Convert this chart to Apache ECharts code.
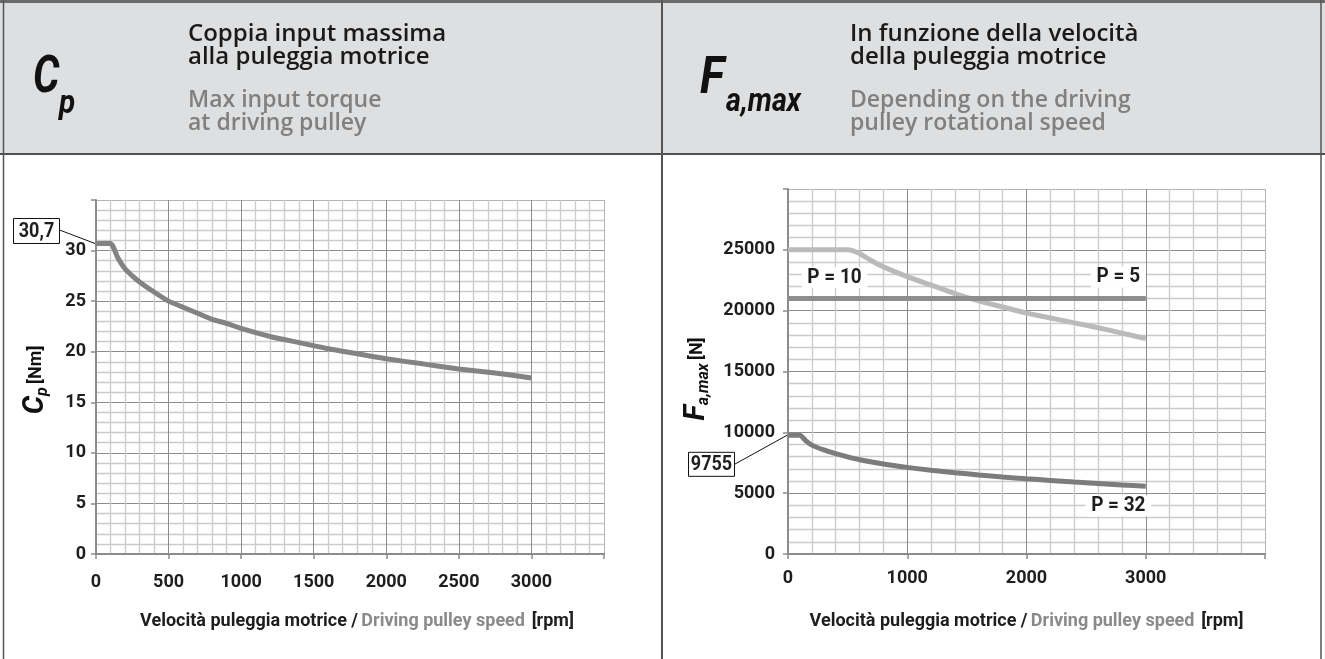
<!DOCTYPE html>
<html>
<head>
<meta charset="utf-8">
<script src="https://cdn.jsdelivr.net/npm/echarts@6/dist/echarts.min.js"></script>
<style>
  html, body { margin: 0; padding: 0; background: #ffffff; }
  #chart { width: 1325px; height: 659px; }
</style>
</head>
<body>
<div id="chart"></div>
<script>
// ---- Max input torque Cp [Nm] vs driving pulley speed [rpm] ----
const rpmCp    = [0, 100, 150, 200, 250, 300, 400, 500, 600, 700, 800, 900, 1000, 1200, 1400, 1600, 1800, 2000, 2250, 2500, 2750, 3000];
const torqueCp = [30.7, 30.7, 29.3, 28.2, 27.5, 26.9, 25.9, 25.0, 24.4, 23.8, 23.2, 22.8, 22.3, 21.5, 20.9, 20.3, 19.8, 19.3, 18.8, 18.3, 17.9, 17.4];
const cpPeak = 30.7;

// ---- Max axial force Fa,max [N] vs driving pulley speed [rpm] ----
const rpmP5    = [0, 3000];
const forceP5  = [21000, 21000];
const rpmP10   = [0, 500, 600, 700, 800, 1000, 1200, 1400, 1600, 1800, 2000, 2200, 2400, 2600, 2800, 3000];
const forceP10 = [25000, 25000, 24700, 24100, 23600, 22800, 22100, 21400, 20800, 20300, 19800, 19400, 19000, 18600, 18150, 17700];
const rpmP32   = [0, 100, 150, 200, 300, 400, 500, 600, 800, 1000, 1200, 1400, 1600, 1800, 2000, 2200, 2400, 2600, 2800, 3000];
const forceP32 = [9755, 9755, 9300, 8950, 8550, 8250, 7980, 7750, 7400, 7120, 6880, 6680, 6500, 6330, 6180, 6050, 5920, 5800, 5680, 5560];
const faPeak = 9755;

// Tick labels that are printed on each axis
const xTicksCp = [0, 500, 1000, 1500, 2000, 2500, 3000];
const yTicksCp = [0, 5, 10, 15, 20, 25, 30];
const xTicksFa = [0, 1000, 2000, 3000];
const yTicksFa = [0, 5000, 10000, 15000, 20000, 25000];

// Curve labels: text and anchor in data coordinates (rpm, N)
const curveLabels = [
  { text: 'P = 10', rpm: 390,  force: 22700 },
  { text: 'P = 5',  rpm: 2770, force: 22750 },
  { text: 'P = 32', rpm: 2770, force: 3950 }
];

const COND = "'Liberation Sans Narrow',Roboto,sans-serif";
const SANS = "'Open Sans','Noto Sans',sans-serif";
const MAJOR = '#8c8c8c';
const MINOR = '#cbcbcb';
const EDGE  = '#b4b4b4';

function pairs(xs, ys) { return xs.map((x, i) => [x, ys[i]]); }

function valueAxis(gridIndex, max, interval, ticks, labelMargin, opts) {
  const n = Math.round(max / interval) + 1;
  const colors = [];
  for (let i = 0; i < n; i++) colors.push(i === n - 1 ? EDGE : MAJOR);
  return Object.assign({
    type: 'value',
    gridIndex: gridIndex,
    min: 0,
    max: max,
    interval: interval,
    axisLine: { show: true, onZero: false, lineStyle: { color: MAJOR, width: 2 } },
    axisTick: { show: true, length: 5, lineStyle: { color: MAJOR, width: 1.5 } },
    axisLabel: {
      show: true,
      margin: labelMargin,
      color: '#1e1e1e',
      fontFamily: COND,
      fontWeight: 'bold',
      fontSize: 18,
      formatter: v => (ticks.indexOf(v) >= 0 ? String(v) : '')
    },
    splitLine: { show: true, lineStyle: { color: colors, width: 1 } },
    minorTick: { show: false, splitNumber: 5 },
    minorSplitLine: { show: true, lineStyle: { color: MINOR, width: 1.3 } }
  }, opts || {});
}

const xNameRich = {
  a: { fontFamily: COND, fontWeight: 'bold', fontSize: 18, color: '#1e1e1e' },
  b: { fontFamily: COND, fontWeight: 'bold', fontSize: 18, color: '#8a8a8a' }
};
const xName = '{a|Velocità puleggia motrice /} {b|Driving pulley speed}  {a|[rpm]}';

const chart = echarts.init(document.getElementById('chart'), null, { renderer: 'canvas' });

const option = {
  animation: false,
  backgroundColor: '#ffffff',
  grid: [
    { left: 96, top: 200, width: 508, height: 354 },
    { left: 788, top: 189, width: 477, height: 365 }
  ],
  xAxis: [
    valueAxis(0, 3500, 500, xTicksCp, 19, {
      name: xName, nameLocation: 'middle', nameGap: 58,
      nameTextStyle: { rich: xNameRich, padding: [0, 0, 0, 14] }
    }),
    valueAxis(1, 4000, 1000, xTicksFa, 15, {
      name: xName, nameLocation: 'middle', nameGap: 58,
      nameTextStyle: { rich: xNameRich }
    })
  ],
  yAxis: [
    valueAxis(0, 35, 5, yTicksCp, 10),
    valueAxis(1, 30000, 5000, yTicksFa, 13)
  ],
  series: [
    {
      name: 'Cp', type: 'line', xAxisIndex: 0, yAxisIndex: 0,
      data: pairs(rpmCp, torqueCp), showSymbol: false, smooth: 0.2,
      lineStyle: { color: '#838383', width: 5 }, silent: true, z: 3
    },
    {
      name: 'P = 10', type: 'line', xAxisIndex: 1, yAxisIndex: 1,
      data: pairs(rpmP10, forceP10), showSymbol: false, smooth: 0.2,
      lineStyle: { color: '#bababa', width: 5 }, silent: true, z: 3
    },
    {
      name: 'P = 5', type: 'line', xAxisIndex: 1, yAxisIndex: 1,
      data: pairs(rpmP5, forceP5), showSymbol: false,
      lineStyle: { color: '#8e8e8e', width: 5 }, silent: true, z: 4
    },
    {
      name: 'P = 32', type: 'line', xAxisIndex: 1, yAxisIndex: 1,
      data: pairs(rpmP32, forceP32), showSymbol: false, smooth: 0.2,
      lineStyle: { color: '#7c7c7c', width: 5 }, silent: true, z: 3
    }
  ]
};

chart.setOption(option);

// ---- frame, header and annotations ----
const fmt = v => String(v).replace('.', ',');
const pCp = chart.convertToPixel({ gridIndex: 0 }, [0, cpPeak]);
const pFa = chart.convertToPixel({ gridIndex: 1 }, [0, faPeak]);

const g = [];
// header band
g.push({ type: 'rect', shape: { x: 0, y: 0, width: 1325, height: 154 }, style: { fill: '#dedfe0' }, z: 0 });
g.push({ type: 'rect', shape: { x: 0, y: 0, width: 1325, height: 3 }, style: { fill: '#6b6b6b' }, z: 1 });
g.push({ type: 'line', shape: { x1: 0, y1: 154, x2: 1325, y2: 154 }, style: { stroke: '#505050', lineWidth: 2 }, z: 1 });
// panel borders
g.push({ type: 'line', shape: { x1: 3.5, y1: 0, x2: 3.5, y2: 659 }, style: { stroke: '#555555', lineWidth: 1.5 }, z: 1 });
g.push({ type: 'line', shape: { x1: 662, y1: 0, x2: 662, y2: 659 }, style: { stroke: '#555555', lineWidth: 2 }, z: 1 });
g.push({ type: 'line', shape: { x1: 1321, y1: 0, x2: 1321, y2: 659 }, style: { stroke: '#555555', lineWidth: 1.5 }, z: 1 });

function txt(text, x, y, size, color, weight, family, extra, sx) {
  return {
    type: 'text', x: x, y: y, z: 5, scaleX: sx || 1,
    style: Object.assign({
      text: text, fill: color, fontSize: size, fontWeight: weight, fontFamily: family,
      align: 'left', verticalAlign: 'middle'
    }, extra || {})
  };
}

// header symbols
const ital = { fontStyle: 'italic' };
g.push(txt('C', 33, 79, 52, '#111111', 'bold', COND, ital, 0.8));
g.push(txt('p', 59, 105, 33, '#111111', 'bold', COND, ital, 0.9));
g.push(txt('F', 700, 80, 52, '#111111', 'bold', COND, ital, 0.88));
g.push(txt('a,max', 726, 103, 33, '#111111', 'bold', COND, ital, 0.87));

// header titles
g.push(txt('Coppia input massima', 188, 34, 24, '#1a1a1a', 600, SANS));
g.push(txt('alla puleggia motrice', 188, 57, 24, '#1a1a1a', 600, SANS));
g.push(txt('Max input torque', 188, 100, 23, '#808080', 600, SANS));
g.push(txt('at driving pulley', 188, 123, 23, '#808080', 600, SANS));
g.push(txt('In funzione della velocità', 850, 34, 24, '#1a1a1a', 600, SANS));
g.push(txt('della puleggia motrice', 850, 57, 24, '#1a1a1a', 600, SANS));
g.push(txt('Depending on the driving', 850, 100, 23, '#808080', 600, SANS));
g.push(txt('pulley rotational speed', 850, 123, 23, '#808080', 600, SANS));

// rotated y-axis titles
function yTitle(x, y, rich, text) {
  return {
    type: 'text', x: x, y: y, rotation: Math.PI / 2, z: 5,
    style: { text: text, rich: rich, align: 'center', verticalAlign: 'middle' }
  };
}
const yRich = {
  s: { fontFamily: COND, fontWeight: 'bold', fontStyle: 'italic', fontSize: 29, lineHeight: 30, fill: '#111' },
  sub: { fontFamily: COND, fontWeight: 'bold', fontStyle: 'italic', fontSize: 16, lineHeight: 10, verticalAlign: 'bottom', fill: '#111' },
  u: { fontFamily: COND, fontWeight: 'bold', fontSize: 18, lineHeight: 30, fill: '#111' }
};
g.push(yTitle(36, 380, yRich, '{s|C}{sub|p} {u|[Nm]}'));
g.push(yTitle(697, 379, yRich, '{s|F}{sub|a,max} {u|[N]}'));

// peak value call-outs
function callout(pt, text, bx, by, bw, bh, lx, ly) {
  g.push({ type: 'line', shape: { x1: lx, y1: ly, x2: pt[0] - 1, y2: pt[1] }, style: { stroke: '#111', lineWidth: 1 }, z: 6 });
  g.push({ type: 'rect', shape: { x: bx, y: by, width: bw, height: bh }, style: { fill: '#fff', stroke: '#111', lineWidth: 1 }, z: 6 });
  g.push({
    type: 'text', x: bx + bw / 2, y: by + bh / 2 + 1, z: 7, scaleX: 0.9,
    style: { text: text, fill: '#1e1e1e', fontSize: 20, fontWeight: 'bold', fontFamily: COND, align: 'center', verticalAlign: 'middle' }
  });
}
callout(pCp, fmt(cpPeak), pCp[0] - 82.5, pCp[1] - 25, 46, 25, pCp[0] - 36.5, pCp[1] - 13.5);
callout(pFa, fmt(faPeak), pFa[0] - 99.5, pFa[1] + 17, 46, 24, pFa[0] - 53.5, pFa[1] + 29);

// curve labels on white
curveLabels.forEach(l => {
  const p = chart.convertToPixel({ gridIndex: 1 }, [l.rpm, l.force]);
  g.push({
    type: 'text', x: p[0], y: p[1], z: 7, scaleX: 0.95,
    style: {
      text: l.text, fill: '#1e1e1e', fontSize: 20, fontWeight: 'bold', fontFamily: COND,
      align: 'center', verticalAlign: 'middle', backgroundColor: '#ffffff', padding: [1, 6, 0, 6]
    }
  });
});

chart.setOption({ graphic: { elements: g } });
</script>
</body>
</html>
